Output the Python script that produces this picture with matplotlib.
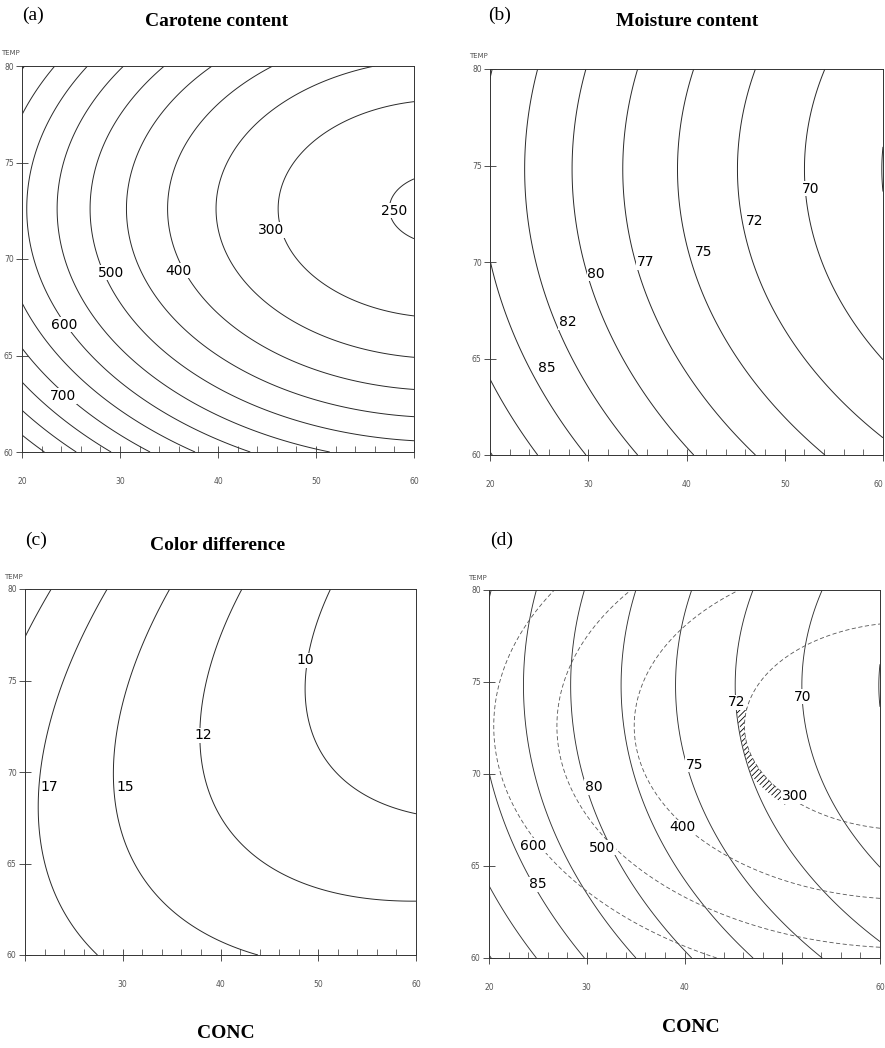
import numpy as np
import matplotlib
matplotlib.use("Agg")
import matplotlib.pyplot as plt
from matplotlib.ticker import MultipleLocator

# quadratic response surfaces, coded units x=(CONC-40)/10, y=(TEMP-70)/5
# coefficient order: b0, bx, by, bxx, byy, bxy
carotene_coef = [360.1, -90.6, -45.8, 19.7, 44.0, 0.0]
moisture_coef = [75.21, -4.24, -1.25, 0.334, 0.65, 0.0]
colordiff_coef = [12.1, -2.23, -0.55, 0.38, 0.55, -0.52]

carotene_levels = [250, 300, 350, 400, 450, 500, 550, 600, 650, 700, 750, 800, 850]
moisture_levels = [67.5, 70, 72.5, 75, 77.5, 80, 82.5, 85, 87.5, 90]
colordiff_levels = [10, 12.5, 15, 17.5, 20]
overlay_carotene_levels = [300, 400, 500, 600]

conc_ticks = [20, 30, 40, 50, 60]
temp_ticks = [60, 65, 70, 75, 80]
conc_labels = {
    'a': ['20', '30', '40', '50', '60'],
    'b': ['20', '30', '40', '50', '60'],
    'c': ['', '30', '40', '50', '60'],
    'd': ['20', '30', '40', '', '60'],
}

# contour label text and where it sits (CONC, TEMP)
carotene_label_pos = {700: (24.2, 62.9), 600: (24.3, 66.6), 500: (29.1, 69.3),
                      400: (36.0, 69.4), 300: (45.4, 71.5), 250: (58.0, 72.5)}
moisture_label_pos = {85: (25.8, 64.5), 82.5: (27.9, 66.9), 80: (30.8, 69.4),
                      77.5: (35.8, 70.0), 75: (41.7, 70.5), 72.5: (46.9, 72.1),
                      70: (52.6, 73.8)}
colordiff_label_pos = {10: (48.7, 76.1), 12.5: (38.2, 72.0), 15: (30.3, 69.2),
                       17.5: (22.5, 69.2)}
overlay_moist_pos = {72.5: (45.3, 73.9), 70: (52.1, 74.2), 75: (41.0, 70.5),
                     80: (30.7, 69.3), 85: (25.0, 64.0)}
overlay_car_pos = {300: (51.3, 68.8), 400: (39.8, 67.1), 500: (31.6, 66.0),
                   600: (24.5, 66.1)}
hatch_conc_max = 50.5
hatch_temp_max = 73.6


def surface(coef, C, T):
    x = (C - 40) / 10
    y = (T - 70) / 5
    b0, bx, by, bxx, byy, bxy = coef
    return b0 + bx*x + by*y + bxx*x**2 + byy*y**2 + bxy*x*y


def fmt_int(v):
    return '%d' % int(v)


def style_axes(ax, key):
    ax.set_xlim(20, 60)
    ax.set_ylim(60, 80)
    ax.set_xticks(conc_ticks)
    ax.set_xticklabels(conc_labels[key])
    ax.set_yticks(temp_ticks)
    ax.xaxis.set_minor_locator(MultipleLocator(2))
    ax.tick_params(which='major', direction='inout', length=8, width=0.6,
                   labelsize=5.5, labelcolor='#555555', color='#333333')
    ax.tick_params(which='minor', axis='x', direction='in', length=4, width=0.5,
                   color='#333333')
    ax.tick_params(axis='x', which='major', pad=14)
    ax.tick_params(axis='y', which='major', pad=2)
    for s in ax.spines.values():
        s.set_linewidth(0.7)
        s.set_color('#333333')
    ax.text(-0.005, 1.025, 'TEMP', transform=ax.transAxes, ha='right',
            va='bottom', fontsize=5, color='#555555')


def draw(ax, Z, levels, label_pos, **kw):
    cs = ax.contour(CC, TT, Z, levels=levels, **kw)
    for lev, (cx, ty) in label_pos.items():
        ax.text(cx, ty, fmt_int(lev), ha='center', va='center', fontsize=10,
                color='black', zorder=5,
                bbox=dict(facecolor='white', edgecolor='none', pad=0.5))
    return cs


conc = np.linspace(20, 60, 241)
temp = np.linspace(60, 80, 241)
CC, TT = np.meshgrid(conc, temp)
carotene = surface(carotene_coef, CC, TT)
moisture = surface(moisture_coef, CC, TT)
colordiff = surface(colordiff_coef, CC, TT)

plt.rcParams['hatch.linewidth'] = 0.6
fig = plt.figure(figsize=(8.85, 10.48), dpi=100)

rects = {
    'a': [22/885, 1-452/1048, 392/885, 386/1048],
    'b': [490/885, 1-455/1048, 393/885, 386/1048],
    'c': [25/885, 1-955/1048, 391/885, 366/1048],
    'd': [489/885, 1-958/1048, 391/885, 368/1048],
}
axes = {k: fig.add_axes(r) for k, r in rects.items()}
for k, ax in axes.items():
    style_axes(ax, k)
# the last tick label of (b) sits on the figure edge
axes['b'].get_xticklabels()[-1].set_horizontalalignment('right')

line_kw = dict(colors='#2a2a2a', linewidths=0.7, linestyles='solid')

draw(axes['a'], carotene, carotene_levels, carotene_label_pos, **line_kw)
draw(axes['b'], moisture, moisture_levels, moisture_label_pos, **line_kw)
draw(axes['c'], colordiff, colordiff_levels, colordiff_label_pos, **line_kw)

# (d) overlay of carotene and moisture
ax = axes['d']
draw(ax, moisture, moisture_levels, overlay_moist_pos,
     colors='#333333', linewidths=0.65, linestyles='solid')
draw(ax, carotene, overlay_carotene_levels, overlay_car_pos,
     colors='#555555', linewidths=0.6, linestyles=[(0, (5, 3))])
band = np.ma.masked_where((CC > hatch_conc_max) | (TT > hatch_temp_max) |
                          (moisture > 72.5), carotene)
ax.contourf(CC, TT, band, levels=[300, 308], colors='none', hatches=['//////'])

serif = 'Liberation Serif'
fig.text(22/885, 1-15/1048, '(a)', family=serif, fontsize=14, va='center')
fig.text(217/885, 1-21/1048, 'Carotene content', family=serif, fontsize=14,
         weight='bold', ha='center', va='center')
fig.text(488/885, 1-15/1048, '(b)', family=serif, fontsize=14, va='center')
fig.text(687/885, 1-22/1048, 'Moisture content', family=serif, fontsize=14,
         weight='bold', ha='center', va='center')
fig.text(25/885, 1-540/1048, '(c)', family=serif, fontsize=14, va='center')
fig.text(218/885, 1-545/1048, 'Color difference', family=serif, fontsize=14,
         weight='bold', ha='center', va='center')
fig.text(490/885, 1-540/1048, '(d)', family=serif, fontsize=14, va='center')
fig.text(226/885, 1-1033/1048, 'CONC', family=serif, fontsize=14,
         weight='bold', ha='center', va='center')
fig.text(691/885, 1-1028/1048, 'CONC', family=serif, fontsize=14,
         weight='bold', ha='center', va='center')

fig.savefig('out.png', dpi=100)
